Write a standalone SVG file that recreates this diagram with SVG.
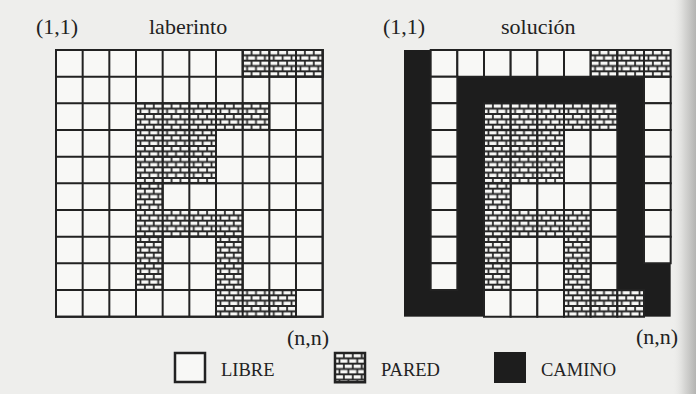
<svg xmlns="http://www.w3.org/2000/svg" width="696" height="394" viewBox="0 0 696 394">
<defs>
<style>
.t{font-family:"Liberation Serif","Times New Roman",serif;fill:#222;}
.h{font-size:22px;}
.l{font-size:18.5px;}
.f{fill:#f8f8f6;stroke:#222;stroke-width:2;vector-effect:non-scaling-stroke;}
.w{fill:url(#brick);stroke:#222;stroke-width:2;vector-effect:non-scaling-stroke;}
.g{fill:none;stroke:#222;stroke-width:2;vector-effect:non-scaling-stroke;}
.p{fill:#1d1d1d;}
</style>
<pattern id="brick" patternUnits="userSpaceOnUse" width="3.33333" height="4">
<rect width="3.33333" height="4" fill="#f8f8f6"/>
<path d="M0 0H3.34M0 2H3.34M0 4H3.34M0 0V2M3.33333 0V2M1.66667 2V4" stroke="#262626" stroke-width="0.65" fill="none"/>
</pattern>
<linearGradient id="shade" x1="0" y1="0" x2="1" y2="0">
<stop offset="0" stop-color="#eeeeec" stop-opacity="0"/>
<stop offset="0.5" stop-color="#d8d8d6"/>
<stop offset="1" stop-color="#b4b4b2"/>
</linearGradient>
</defs>
<rect width="696" height="394" fill="#eeeeec"/>
<rect x="672" y="0" width="24" height="394" fill="url(#shade)"/>

<g id="titles">
<text class="t h" x="36" y="34">(1,1)</text>
<text class="t h" x="149" y="34">laberinto</text>
<text class="t h" x="383" y="34">(1,1)</text>
<text class="t h" x="501" y="34">solución</text>
<text class="t h" x="287" y="345">(n,n)</text>
<text class="t h" x="636" y="344">(n,n)</text>
</g>

<g id="laberinto" transform="translate(56,50) scale(2.66667)">
<rect class="f" x="0" y="0" width="100" height="100"/>
<g id="walls-left">
<rect class="w" x="70" y="0" width="30" height="10"/>
<rect class="w" x="30" y="20" width="50" height="10"/>
<rect class="w" x="30" y="30" width="30" height="20"/>
<rect class="w" x="30" y="50" width="10" height="10"/>
<rect class="w" x="30" y="60" width="40" height="10"/>
<rect class="w" x="30" y="70" width="10" height="20"/>
<rect class="w" x="60" y="70" width="10" height="20"/>
<rect class="w" x="60" y="90" width="30" height="10"/>
</g>
<path class="g" d="M10 0V100M20 0V100M30 0V100M40 0V100M50 0V100M60 0V100M70 0V100M80 0V100M90 0V100M0 10H100M0 20H100M0 30H100M0 40H100M0 50H100M0 60H100M0 70H100M0 80H100M0 90H100"/>
<rect class="g" x="0" y="0" width="100" height="100"/>
</g>

<g id="solucion" transform="translate(404,50) scale(2.66667)">
<rect class="p" x="0" y="0" width="100" height="100"/>
<g id="free-right">
<rect class="f" x="10" y="0" width="10" height="10"/>
<rect class="f" x="20" y="0" width="10" height="10"/>
<rect class="f" x="30" y="0" width="10" height="10"/>
<rect class="f" x="40" y="0" width="10" height="10"/>
<rect class="f" x="50" y="0" width="10" height="10"/>
<rect class="f" x="60" y="0" width="10" height="10"/>
<rect class="f" x="10" y="10" width="10" height="10"/>
<rect class="f" x="10" y="20" width="10" height="10"/>
<rect class="f" x="10" y="30" width="10" height="10"/>
<rect class="f" x="10" y="40" width="10" height="10"/>
<rect class="f" x="10" y="50" width="10" height="10"/>
<rect class="f" x="10" y="60" width="10" height="10"/>
<rect class="f" x="10" y="70" width="10" height="10"/>
<rect class="f" x="10" y="80" width="10" height="10"/>
<rect class="f" x="90" y="10" width="10" height="10"/>
<rect class="f" x="90" y="20" width="10" height="10"/>
<rect class="f" x="90" y="30" width="10" height="10"/>
<rect class="f" x="90" y="40" width="10" height="10"/>
<rect class="f" x="90" y="50" width="10" height="10"/>
<rect class="f" x="90" y="60" width="10" height="10"/>
<rect class="f" x="90" y="70" width="10" height="10"/>
<rect class="f" x="60" y="30" width="10" height="10"/>
<rect class="f" x="70" y="30" width="10" height="10"/>
<rect class="f" x="60" y="40" width="10" height="10"/>
<rect class="f" x="70" y="40" width="10" height="10"/>
<rect class="f" x="40" y="50" width="10" height="10"/>
<rect class="f" x="50" y="50" width="10" height="10"/>
<rect class="f" x="60" y="50" width="10" height="10"/>
<rect class="f" x="70" y="50" width="10" height="10"/>
<rect class="f" x="70" y="60" width="10" height="10"/>
<rect class="f" x="40" y="70" width="10" height="10"/>
<rect class="f" x="50" y="70" width="10" height="10"/>
<rect class="f" x="70" y="70" width="10" height="10"/>
<rect class="f" x="40" y="80" width="10" height="10"/>
<rect class="f" x="50" y="80" width="10" height="10"/>
<rect class="f" x="70" y="80" width="10" height="10"/>
<rect class="f" x="30" y="90" width="10" height="10"/>
<rect class="f" x="40" y="90" width="10" height="10"/>
<rect class="f" x="50" y="90" width="10" height="10"/>
</g>
<g id="walls-right">
<rect class="w" x="70" y="0" width="10" height="10"/>
<rect class="w" x="80" y="0" width="10" height="10"/>
<rect class="w" x="90" y="0" width="10" height="10"/>
<rect class="w" x="30" y="20" width="10" height="10"/>
<rect class="w" x="40" y="20" width="10" height="10"/>
<rect class="w" x="50" y="20" width="10" height="10"/>
<rect class="w" x="60" y="20" width="10" height="10"/>
<rect class="w" x="70" y="20" width="10" height="10"/>
<rect class="w" x="30" y="30" width="10" height="10"/>
<rect class="w" x="40" y="30" width="10" height="10"/>
<rect class="w" x="50" y="30" width="10" height="10"/>
<rect class="w" x="30" y="40" width="10" height="10"/>
<rect class="w" x="40" y="40" width="10" height="10"/>
<rect class="w" x="50" y="40" width="10" height="10"/>
<rect class="w" x="30" y="50" width="10" height="10"/>
<rect class="w" x="30" y="60" width="10" height="10"/>
<rect class="w" x="40" y="60" width="10" height="10"/>
<rect class="w" x="50" y="60" width="10" height="10"/>
<rect class="w" x="60" y="60" width="10" height="10"/>
<rect class="w" x="30" y="70" width="10" height="10"/>
<rect class="w" x="60" y="70" width="10" height="10"/>
<rect class="w" x="30" y="80" width="10" height="10"/>
<rect class="w" x="60" y="80" width="10" height="10"/>
<rect class="w" x="60" y="90" width="10" height="10"/>
<rect class="w" x="70" y="90" width="10" height="10"/>
<rect class="w" x="80" y="90" width="10" height="10"/>
</g>
</g>

<g id="leyenda">
<g id="ley-libre">
<rect class="f" x="175" y="353" width="30" height="29" style="stroke-width:2.5"/>
<text class="t l" x="221" y="376">LIBRE</text>
</g>
<g id="ley-pared">
<g transform="translate(335,353) scale(2.66667)">
<rect class="w" x="0" y="0" width="11.25" height="11" style="stroke-width:2.5"/>
</g>
<text class="t l" x="381" y="376">PARED</text>
</g>
<g id="ley-camino">
<rect class="p" x="494" y="352" width="32" height="31" fill="#262626"/>
<text class="t l" x="541" y="376">CAMINO</text>
</g>
</g>
</svg>
